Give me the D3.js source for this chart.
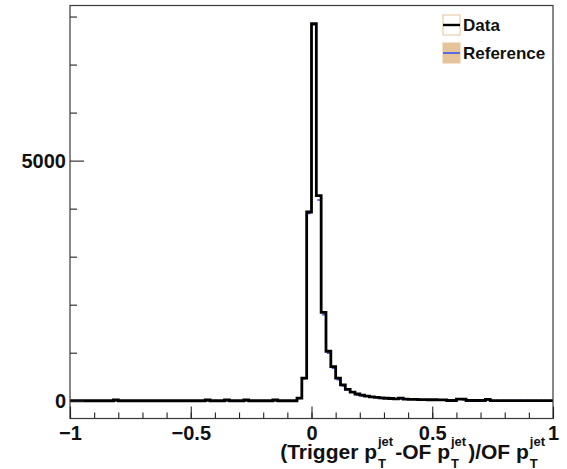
<!DOCTYPE html>
<html>
<head>
<meta charset="utf-8">
<script src="https://cdn.jsdelivr.net/npm/d3@7"></script>
<style>
  html, body { margin: 0; padding: 0; background: #fff; }
  svg { display: block; font-family: "Liberation Sans", Arial, sans-serif; font-weight: bold; }
</style>
</head>
<body>
<div id="chart"></div>
<script>
// bins: 100 bins of width 0.02 from -1 to 1
let binLow = d3.range(100).map(function (i) { return -1 + 0.02 * i; });

let dataCounts = [
    0, 0, 0, 0, 0, 0, 0, 0, 0, 15,
    0, 0, 0, 0, 0, 0, 0, 0, 0, 0,
    0, 0, 0, 0, 0, 0, 0, 0, 15, 0,
    0, 0, 15, 0, 0, 0, 15, 0, 0, 0,
    0, 0, 15, 0, 0, 0, 0, 55, 470, 3930,
    7850, 4270, 1840, 1030, 710, 470, 330, 235, 180, 140,
    115, 95, 80, 70, 60, 52, 46, 40, 55, 33,
    30, 28, 25, 22, 20, 20, 18, 18, 5, 5,
    35, 35, 5, 5, 5, 5, 30, 3, 3, 3,
    3, 3, 3, 3, 3, 3, 3, 3, 3, 3
];

let refCounts = [
    0, 0, 0, 0, 0, 0, 0, 0, 0, 0,
    0, 0, 0, 0, 0, 0, 0, 0, 0, 0,
    0, 0, 0, 0, 0, 0, 0, 0, 0, 0,
    0, 0, 0, 0, 0, 0, 0, 0, 0, 0,
    0, 0, 0, 0, 0, 0, 0, 50, 460, 3900,
    7830, 4180, 1790, 990, 680, 440, 310, 230, 180, 120,
    100, 95, 80, 70, 45, 52, 46, 40, 38, 33,
    30, 28, 25, 22, 20, 20, 18, 18, 5, 5,
    35, 15, 5, 5, 5, 5, 12, 3, 3, 3,
    3, 3, 3, 3, 3, 3, 3, 3, 3, 3
];

let xMajorTicks = [-1, -0.5, 0, 0.5, 1];
let xTickLabels = ["\u22121", "\u22120.5", "0", "0.5", "1"];
let xMinorTicks = d3.range(-10, 11).map(function (k) { return k / 10; });
let yMajorTicks = [0, 5000];
let yTickLabels = ["0", "5000"];
let yMinorTicks = [1000, 2000, 3000, 4000, 6000, 7000, 8000];

let legendNames = ["Data", "Reference"];

let width = 567, height = 469;
let frame = { left: 70, right: 553, top: 5.5, bottom: 418.5 };

let svg = d3.select('#chart').append('svg')
    .attr('width', width)
    .attr('height', height);

let xScale = d3.scaleLinear()
    .domain([-1, 1])
    .range([frame.left, frame.right]);

let yScale = d3.scaleLinear()
    .domain([-370, 8230])
    .range([frame.bottom, frame.top]);

svg.append('clipPath').attr('id', 'clip')
    .append('rect')
    .attr('x', frame.left).attr('y', frame.top)
    .attr('width', frame.right - frame.left)
    .attr('height', frame.bottom - frame.top);

let plot = svg.append('g').attr('clip-path', 'url(#clip)');

// reference: short blue marks at each bin
let binW = 0.02;
plot.selectAll('line.ref').data(refCounts)
    .enter().append('line')
    .attr('class', 'ref')
    .attr('x1', function (d, i) { return xScale(binLow[i] + binW * 0.2); })
    .attr('x2', function (d, i) { return xScale(binLow[i] + binW * 0.8); })
    .attr('y1', function (d) { return yScale(d); })
    .attr('y2', function (d) { return yScale(d); })
    .style('stroke', '#3a55ee')
    .style('stroke-width', 1.6);

// data: step histogram
let steps = binLow.map(function (x, i) { return [x, dataCounts[i]]; });
steps.push([1, dataCounts[dataCounts.length - 1]]);

let stepLine = d3.line()
    .x(function (d) { return xScale(d[0]); })
    .y(function (d) { return yScale(d[1]); })
    .curve(d3.curveStepAfter);

plot.append('path')
    .datum(steps)
    .attr('d', stepLine)
    .style('fill', 'none')
    .style('stroke', '#000')
    .style('stroke-width', 2.8)
    .style('stroke-linejoin', 'miter');

// frame
svg.append('rect')
    .attr('x', frame.left).attr('y', frame.top)
    .attr('width', frame.right - frame.left)
    .attr('height', frame.bottom - frame.top)
    .style('fill', 'none')
    .style('stroke', '#3a3a3a')
    .style('stroke-width', 1.2);

// x axis
let xAxis = d3.axisBottom(xScale)
    .tickValues(xMajorTicks)
    .tickFormat(function (d, i) { return xTickLabels[i]; })
    .tickSizeInner(-12)
    .tickSizeOuter(0)
    .tickPadding(7);

let xMinor = d3.axisBottom(xScale)
    .tickValues(xMinorTicks)
    .tickFormat('')
    .tickSizeInner(-6)
    .tickSizeOuter(0);

let xg = svg.append('g').attr('transform', 'translate(0,' + frame.bottom + ')');
xMinor(xg.append('g'));
xAxis(xg.append('g'));

// y axis
let yAxis = d3.axisLeft(yScale)
    .tickValues(yMajorTicks)
    .tickFormat(function (d, i) { return yTickLabels[i]; })
    .tickSizeInner(-14)
    .tickSizeOuter(0)
    .tickPadding(4);

let yMinor = d3.axisLeft(yScale)
    .tickValues(yMinorTicks)
    .tickFormat('')
    .tickSizeInner(-7)
    .tickSizeOuter(0);

let yg = svg.append('g').attr('transform', 'translate(' + frame.left + ',0)');
yMinor(yg.append('g'));
yAxis(yg.append('g'));

svg.selectAll('.domain').remove();
svg.selectAll('.tick line').style('stroke', '#222').style('stroke-width', 1.1);
svg.selectAll('.tick text')
    .style('font-family', '"Liberation Sans", Arial, sans-serif')
    .style('font-weight', 'bold')
    .style('font-size', '20px')
    .style('fill', '#111');

// axis title with stacked sub/superscripts
let title = svg.append('g').attr('class', 'xtitle')
    .style('font-weight', 'bold').style('fill', '#111');
let parts = [
    { t: "(Trigger p" },
    { sup: "jet", sub: "T" },
    { t: "-OF p" },
    { sup: "jet", sub: "T" },
    { t: ")/OF p" },
    { sup: "jet", sub: "T" }
];
let baseY = 459;
let cx = 0;
parts.forEach(function (p) {
    if (p.t) {
        let el = title.append('text')
            .attr('x', cx).attr('y', baseY)
            .style('font-size', '21px')
            .style('white-space', 'pre')
            .text(p.t);
        cx += el.node().getComputedTextLength();
    } else {
        let s1 = title.append('text')
            .attr('x', cx + 1).attr('y', baseY - 13)
            .style('font-size', '13px')
            .text(p.sup);
        let s2 = title.append('text')
            .attr('x', cx + 1).attr('y', baseY + 9)
            .style('font-size', '13px')
            .text(p.sub);
        cx += Math.max(s1.node().getComputedTextLength(), s2.node().getComputedTextLength()) + 3;
    }
});
title.attr('transform', 'translate(' + (frame.right - 6 - cx) + ',0)');

// legend
let legend = svg.append('g').attr('class', 'legend');
let legY = [25, 53];
legendNames.forEach(function (name, i) {
    let g = legend.append('g').attr('transform', 'translate(0,' + legY[i] + ')');
    g.append('rect')
        .attr('x', 443).attr('y', -10)
        .attr('width', 17).attr('height', 20)
        .style('fill', i === 0 ? '#fff' : '#e6c49b')
        .style('stroke', '#e6c49b')
        .style('stroke-width', 1);
    g.append('line')
        .attr('x1', 443).attr('x2', 460)
        .attr('y1', 0).attr('y2', 0)
        .style('stroke', i === 0 ? '#000' : '#3a55ee')
        .style('stroke-width', i === 0 ? 2.4 : 1.6);
    g.append('text')
        .attr('x', 463).attr('y', 6)
        .style('font-size', '17px')
        .style('fill', '#111')
        .text(name);
});
</script>
</body>
</html>
